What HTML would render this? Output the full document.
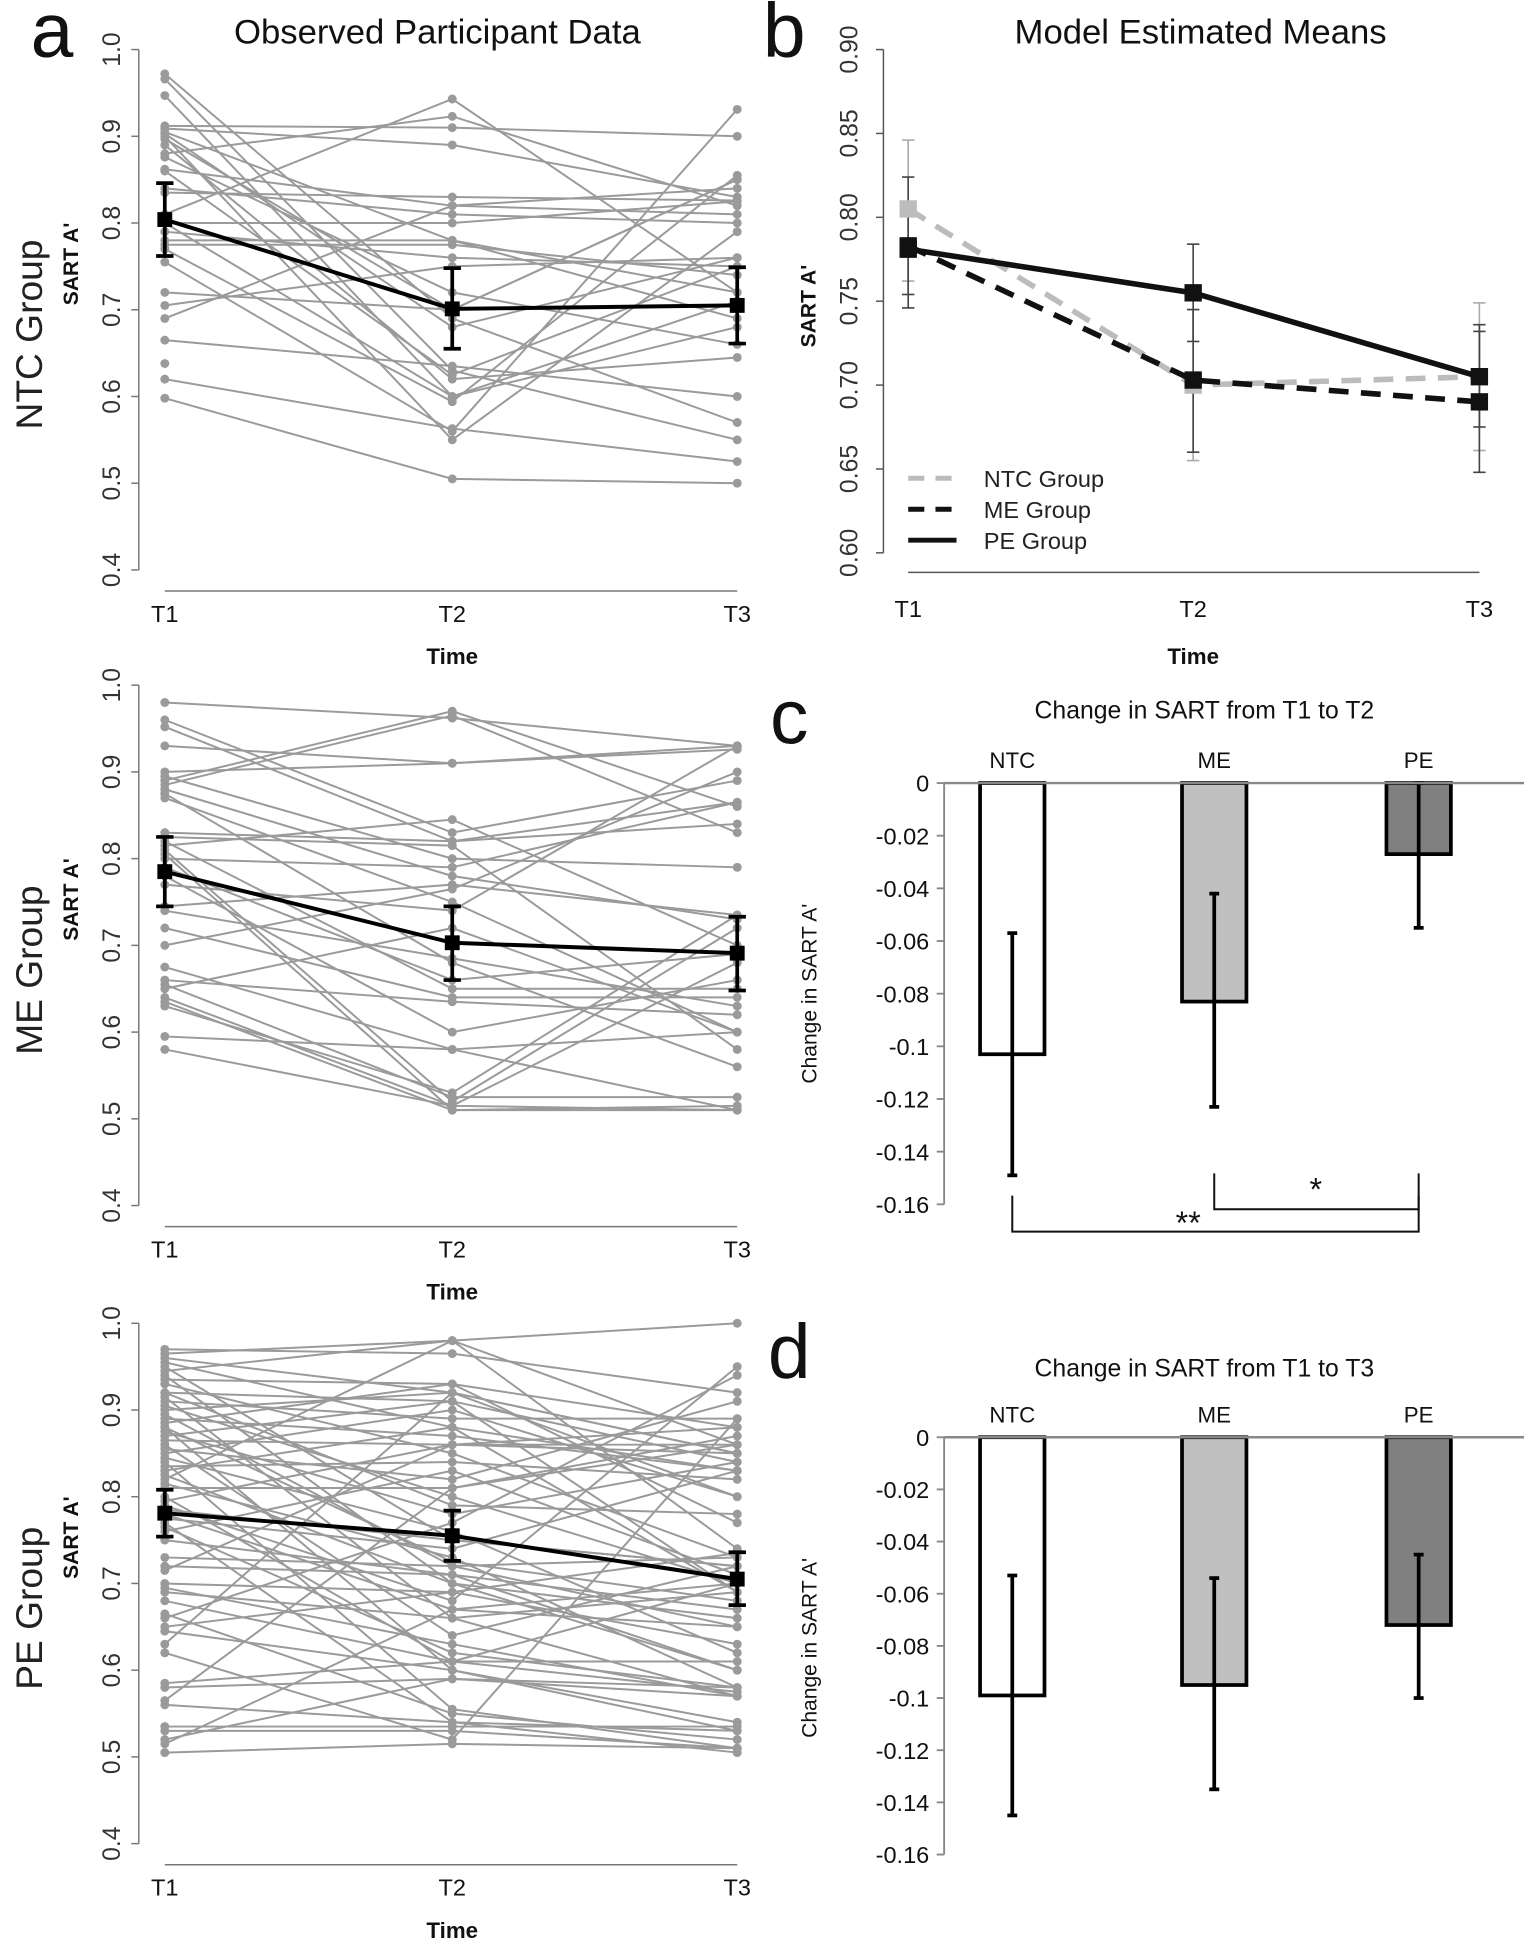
<!DOCTYPE html>
<html><head><meta charset="utf-8">
<style>
html,body{margin:0;padding:0;background:#fff;}
svg{display:block;font-family:"Liberation Sans",Arial,sans-serif;}
</style></head>
<body>
<svg id="fig" width="1524" height="1944" viewBox="0 0 1230 1569" xmlns="http://www.w3.org/2000/svg">
<rect width="1230" height="1569" fill="#fff"/>
<g id="root"></g>
</svg>
<script>
// ===== DATA =====
const timeLabels = ["T1","T2","T3"];
const groupNames = ["NTC","ME","PE"];
const aTicks = [0.4,0.5,0.6,0.7,0.8,0.9,1.0];
const aTickLabels = ["0.4","0.5","0.6","0.7","0.8","0.9","1.0"];
const ntcParticipants = [
[0.972,0.69,0.57],[0.966,0.63,0.55],[0.947,0.60,0.68],[0.912,0.91,0.90],[0.909,0.89,0.83],[0.905,0.78,0.72],
[0.903,0.68,0.76],[0.897,0.70,0.85],[0.88,0.923,0.82],[0.876,0.72,0.66],[0.862,0.82,0.84],[0.84,0.81,0.80],
[0.835,0.83,0.826],[0.81,0.943,0.72],[0.80,0.80,0.825],[0.79,0.76,0.75],[0.78,0.78,0.69],[0.775,0.775,0.74],
[0.77,0.594,0.855],[0.755,0.56,0.931],[0.72,0.70,0.85],[0.705,0.75,0.76],[0.69,0.82,0.81],[0.665,0.635,0.60],
[0.62,0.563,0.525],[0.90,0.55,0.79],[0.89,0.62,0.645],[0.86,0.625,0.75],[0.80,0.60,0.71],[0.638,null,null],[0.598,0.505,0.50]
];
const meParticipants = [
[0.98,0.962,0.93],[0.96,0.83,0.89],[0.952,0.82,0.84],[0.93,0.91,0.926],[0.90,0.91,0.93],[0.895,0.80,0.79],
[0.89,0.97,0.86],[0.885,0.965,0.83],[0.88,0.78,0.73],[0.875,0.68,0.56],[0.87,0.75,0.60],[0.83,0.82,0.865],
[0.825,0.815,0.58],[0.82,0.65,0.65],[0.815,0.845,0.70],[0.81,0.52,0.72],[0.805,0.51,0.51],[0.80,0.79,0.865],
[0.79,0.66,0.69],[0.78,0.60,0.66],[0.77,0.74,0.93],[0.745,0.77,0.735],[0.74,0.685,0.63],[0.72,0.64,0.64],
[0.70,0.765,0.90],[0.675,0.58,0.51],[0.66,0.635,0.62],[0.655,0.525,0.525],[0.65,0.72,0.60],[0.64,0.515,0.51],
[0.635,0.51,0.515],[0.63,0.53,0.735],[0.595,0.58,0.60],[0.58,0.515,0.68]
];
const peParticipants = [
[0.97,0.965,0.92],[0.965,0.98,1.0],[0.96,0.92,0.85],[0.955,0.88,0.83],[0.95,0.75,0.72],[0.945,0.98,0.86],
[0.94,0.70,0.60],[0.935,0.93,0.88],[0.93,0.85,0.73],[0.92,0.91,0.84],[0.915,0.66,0.57],[0.91,0.89,0.89],
[0.905,0.80,0.70],[0.90,0.92,0.85],[0.895,0.72,0.65],[0.89,0.87,0.83],[0.885,0.93,0.77],[0.88,0.60,0.53],
[0.875,0.78,0.84],[0.87,0.91,0.69],[0.865,0.86,0.86],[0.86,0.64,0.72],[0.855,0.82,0.91],[0.85,0.90,0.80],
[0.845,0.76,0.62],[0.84,0.555,0.51],[0.835,0.84,0.82],[0.83,0.88,0.69],[0.825,0.70,0.66],[0.82,0.98,0.74],
[0.815,0.73,0.58],[0.81,0.81,0.86],[0.80,0.61,0.70],[0.795,0.86,0.85],[0.79,0.68,0.95],[0.785,0.75,0.72],
[0.78,0.67,0.65],[0.775,0.74,0.83],[0.77,0.54,0.505],[0.765,0.62,0.58],[0.76,0.83,0.71],[0.75,0.71,0.60],
[0.73,0.72,0.73],[0.72,0.71,0.67],[0.715,0.86,0.88],[0.70,0.69,0.63],[0.695,0.63,0.57],[0.69,0.66,0.69],
[0.68,0.61,0.61],[0.665,0.55,0.52],[0.66,0.77,0.94],[0.65,0.69,0.735],[0.645,0.60,0.54],[0.63,0.92,0.80],
[0.62,0.52,0.89],[0.585,0.61,0.575],[0.58,0.59,0.57],[0.565,0.81,0.87],[0.56,0.54,0.53],[0.535,0.535,0.535],
[0.53,0.53,0.51],[0.52,0.59,0.58],[0.515,0.67,0.70],[0.505,0.515,0.51],[0.88,0.725,0.68],[0.92,0.79,0.78]
];
const obsMeans = [[0.804,0.701,0.705],[0.785,0.703,0.691],[0.781,0.755,0.705]];
const obsLow = [[0.762,0.655,0.661],[0.745,0.660,0.648],[0.754,0.726,0.675]];
const obsHigh = [[0.846,0.748,0.749],[0.825,0.745,0.733],[0.808,0.784,0.736]];
// panel b
const bTicks = [0.60,0.65,0.70,0.75,0.80,0.85,0.90];
const bTickLabels = ["0.60","0.65","0.70","0.75","0.80","0.85","0.90"];
const ntcModel = [0.805,0.700,0.705];
const meModel = [0.783,0.703,0.690];
const peModel = [0.781,0.755,0.705];
const ntcModelLow = [0.762,0.655,0.661], ntcModelHigh = [0.846,0.745,0.749];
const meModelLow = [0.746,0.660,0.648], meModelHigh = [0.824,0.745,0.732];
const peModelLow = [0.754,0.726,0.675], peModelHigh = [0.808,0.784,0.736];
// panels c, d
const barTicks = [0,-0.02,-0.04,-0.06,-0.08,-0.1,-0.12,-0.14,-0.16];
const barTickLabels = ["0","-0.02","-0.04","-0.06","-0.08","-0.1","-0.12","-0.14","-0.16"];
const changeT2 = [-0.103,-0.083,-0.027];
const changeT2Low = [-0.149,-0.123,-0.055];
const changeT2High = [-0.057,-0.042,0.0];
const changeT3 = [-0.099,-0.095,-0.072];
const changeT3Low = [-0.145,-0.135,-0.100];
const changeT3High = [-0.053,-0.054,-0.045];

// ===== DRAW =====
const NS="http://www.w3.org/2000/svg";
const root=document.getElementById('root');
function el(tag,attrs,parent,text){
  const e=document.createElementNS(NS,tag);
  for(const k in attrs) e.setAttribute(k,attrs[k]);
  if(text!==undefined) e.textContent=text;
  (parent||root).appendChild(e); return e;
}
function txt(x,y,s,size,opts,parent){
  opts=opts||{};
  const a={x:x,y:y,'font-size':size,'text-anchor':opts.anchor||'middle',fill:opts.fill||'#111'};
  if(opts.bold) a['font-weight']='bold';
  if(opts.rot) a.transform='rotate(-90 '+x+' '+y+')';
  return el('text',a,parent,s);
}

// ---- Panel a (three rows) ----
const aX=[133,365,595];
const rowTops=[40,553,1068];
const rowParts=[ntcParticipants,meParticipants,peParticipants];
const rowNames=["NTC Group","ME Group","PE Group"];
const rowCenters=[270,783,1298];
rowTops.forEach((top,r)=>{
  const g=el('g',{});
  
  
  const ay=v=>top+(1.0-v)*700;
  const yax=el('line',{x1:112,y1:ay(1.0),x2:112,y2:ay(0.4),stroke:'#777','stroke-width':1.2},g);
  
  
  aTicks.forEach((t,i)=>{
    el('line',{x1:106,y1:ay(t),x2:112,y2:ay(t),stroke:'#777','stroke-width':1.2},g);
    const tl=txt(97,ay(t),aTickLabels[i],20,{rot:true,fill:'#333'},g);
    
    
  });
  const xax=el('line',{x1:aX[0],y1:top+437,x2:aX[2],y2:top+437,stroke:'#777','stroke-width':1.2},g);
  
  
  timeLabels.forEach((t,i)=>{
    const tl=txt(aX[i],top+462,t,19,{},g);
    
    
  });
  const tt=txt(365,top+496,'Time',18,{bold:true},g);
  
  
  const gl=txt(34,rowCenters[r],rowNames[r],30,{rot:true,fill:'#222'},g);
  
  
  const sl=txt(63,rowCenters[r]-57,"SART A'",17,{rot:true,bold:true},g);
  
  
  rowParts[r].forEach(p=>{
    const pts=[];
    p.forEach((v,i)=>{ if(v!==null) pts.push([aX[i],ay(v)]); });
    if(pts.length>1){
      const pl=el('polyline',{points:pts.map(q=>q.join(',')).join(' '),fill:'none',stroke:'#9a9a9a','stroke-width':1.6},g);
      
      
    }
    pts.forEach(q=>{
      const c=el('circle',{cx:q[0],cy:q[1],r:3.6,fill:'#9a9a9a'},g);
      
      
    });
  });
  const m=obsMeans[r];
  const ml=el('polyline',{points:m.map((v,i)=>aX[i]+','+ay(v)).join(' '),fill:'none',stroke:'#000','stroke-width':3.2},g);
  
  
  m.forEach((v,i)=>{
    const x=aX[i];
    el('line',{x1:x,y1:ay(obsLow[r][i]),x2:x,y2:ay(obsHigh[r][i]),stroke:'#000','stroke-width':3},g);
    el('line',{x1:x-7,y1:ay(obsLow[r][i]),x2:x+7,y2:ay(obsLow[r][i]),stroke:'#000','stroke-width':3},g);
    el('line',{x1:x-7,y1:ay(obsHigh[r][i]),x2:x+7,y2:ay(obsHigh[r][i]),stroke:'#000','stroke-width':3},g);
    const sq=el('rect',{x:x-6,y:ay(v)-6,width:12,height:12,fill:'#000'},g);
    
    
  });
});
const pa=txt(42,46,'a',62,{fill:'#111'});


const ta=txt(353,35,'Observed Participant Data',28,{fill:'#111'});



// ---- Panel b ----
(function(){
  const g=el('g',{});
  
  
  const bx=[733,963,1194];
  const by=v=>40+(0.90-v)/0.05*67.7;
  const yax=el('line',{x1:713,y1:by(0.90),x2:713,y2:by(0.60),stroke:'#555','stroke-width':1.2},g);
  
  
  bTicks.forEach((t,i)=>{
    el('line',{x1:707,y1:by(t),x2:713,y2:by(t),stroke:'#555','stroke-width':1.2},g);
    const tl=txt(692,by(t),bTickLabels[i],20,{rot:true,fill:'#333'},g);
    
    
  });
  el('line',{x1:bx[0],y1:462,x2:bx[2],y2:462,stroke:'#555','stroke-width':1.2},g);
  timeLabels.forEach((t,i)=>{ const tl=txt(bx[i],498,t,19,{},g);
    
     });
  const tt=txt(963,536,'Time',18,{bold:true},g);
  
  
  const yt=txt(658,247,"SART A'",17,{rot:true,bold:true},g);
  
  
  const series=[
    {v:ntcModel,lo:ntcModelLow,hi:ntcModelHigh,c:'#bcbcbc',dash:'16 10',name:'ntc'},
    {v:meModel,lo:meModelLow,hi:meModelHigh,c:'#111',dash:'16 10',name:'me'},
    {v:peModel,lo:peModelLow,hi:peModelHigh,c:'#111',dash:'',name:'pe'}
  ];
  series.forEach(s=>{
    s.v.forEach((v,i)=>{
      const x=bx[i];
      const col=s.c==='#111'?'#444':'#aaa';
      el('line',{x1:x,y1:by(s.lo[i]),x2:x,y2:by(s.hi[i]),stroke:col,'stroke-width':1.3},g);
      el('line',{x1:x-5,y1:by(s.lo[i]),x2:x+5,y2:by(s.lo[i]),stroke:col,'stroke-width':1.3},g);
      el('line',{x1:x-5,y1:by(s.hi[i]),x2:x+5,y2:by(s.hi[i]),stroke:col,'stroke-width':1.3},g);
    });
  });
  series.forEach(s=>{
    const a={points:s.v.map((v,i)=>bx[i]+','+by(v)).join(' '),fill:'none',stroke:s.c,'stroke-width':4.5};
    if(s.dash) a['stroke-dasharray']=s.dash;
    const pl=el('polyline',a,g);
    
    
    s.v.forEach((v,i)=>{
      const r=el('rect',{x:bx[i]-7,y:by(v)-7,width:14,height:14,fill:s.c},g);
      
      
    });
  });
  const legY=[386,411,436], legT=['NTC Group','ME Group','PE Group'];
  series.forEach((s,i)=>{
    const lg=el('g',{},g);
    
    
    const a={x1:733,y1:legY[i],x2:772,y2:legY[i],stroke:s.c,'stroke-width':4};
    if(s.dash) a['stroke-dasharray']='13 9';
    el('line',a,lg);
    txt(794,legY[i]+7,legT[i],19,{anchor:'start',fill:'#222'},lg);
  });
})();
const pb=txt(633,46,'b',62,{fill:'#111'});


const tb=txt(969,35,'Model Estimated Means',28,{fill:'#111'});



// ---- Panels c and d ----
function barPanel(zeroY,per,vals,lo,hi,name){
  const g=el('g',{});
  
  
  const cy=v=>zeroY+(-v)/0.02*per;
  const cx=[817,980,1145];
  el('line',{x1:762,y1:cy(0),x2:762,y2:cy(-0.16),stroke:'#888','stroke-width':1.5},g);
  barTicks.forEach((t,i)=>{
    el('line',{x1:756,y1:cy(t),x2:762,y2:cy(t),stroke:'#888','stroke-width':1.5},g);
    const tl=txt(750,cy(t)+7,barTickLabels[i],19,{anchor:'end',fill:'#111'},g);
    
    
  });
  const yt=txt(659,zeroY+170,"Change in SART A'",17,{rot:true,fill:'#111'},g);
  
  
  const fills=['#ffffff','#c0c0c0','#808080'];
  vals.forEach((v,i)=>{
    const b=el('rect',{x:cx[i]-26,y:cy(0),width:52,height:cy(v)-cy(0),fill:fills[i],stroke:'#000','stroke-width':3},g);
    
    
    el('line',{x1:cx[i],y1:cy(hi[i]),x2:cx[i],y2:cy(lo[i]),stroke:'#000','stroke-width':3},g);
    el('line',{x1:cx[i]-4,y1:cy(hi[i]),x2:cx[i]+4,y2:cy(hi[i]),stroke:'#000','stroke-width':3},g);
    el('line',{x1:cx[i]-4,y1:cy(lo[i]),x2:cx[i]+4,y2:cy(lo[i]),stroke:'#000','stroke-width':3},g);
    const cl=txt(cx[i],zeroY-12,groupNames[i],18,{fill:'#111'},g);
    
    
  });
  el('line',{x1:762,y1:cy(0),x2:1230,y2:cy(0),stroke:'#888','stroke-width':2},g);
  return {g:g,cx:cx};
}
const pc=barPanel(632,42.5,changeT2,changeT2Low,changeT2High,'change-t1-t2-chart');
(function(){
  const g=pc.g, cx=pc.cx;
  const b1=el('polyline',{points:cx[0]+',965 '+cx[0]+',994 '+cx[2]+',994 '+cx[2]+',965',fill:'none',stroke:'#111','stroke-width':1.6},g);
  
  
  const b2=el('polyline',{points:cx[1]+',947 '+cx[1]+',976 '+cx[2]+',976 '+cx[2]+',947',fill:'none',stroke:'#111','stroke-width':1.6},g);
  
  
  const s1=txt(959,996,'**',26,{fill:'#111'},g);
  
  
  const s2=txt(1062,969,'*',26,{fill:'#111'},g);
  
  
})();
const pcl=txt(637,600,'c',62,{fill:'#111'});


const tc=txt(972,580,'Change in SART from T1 to T2',20,{fill:'#111'});



barPanel(1160,42.1,changeT3,changeT3Low,changeT3High,'change-t1-t3-chart');
const pdl=txt(637,1112,'d',62,{fill:'#111'});


const td=txt(972,1111,'Change in SART from T1 to T3',20,{fill:'#111'});


</script>
</body></html>
